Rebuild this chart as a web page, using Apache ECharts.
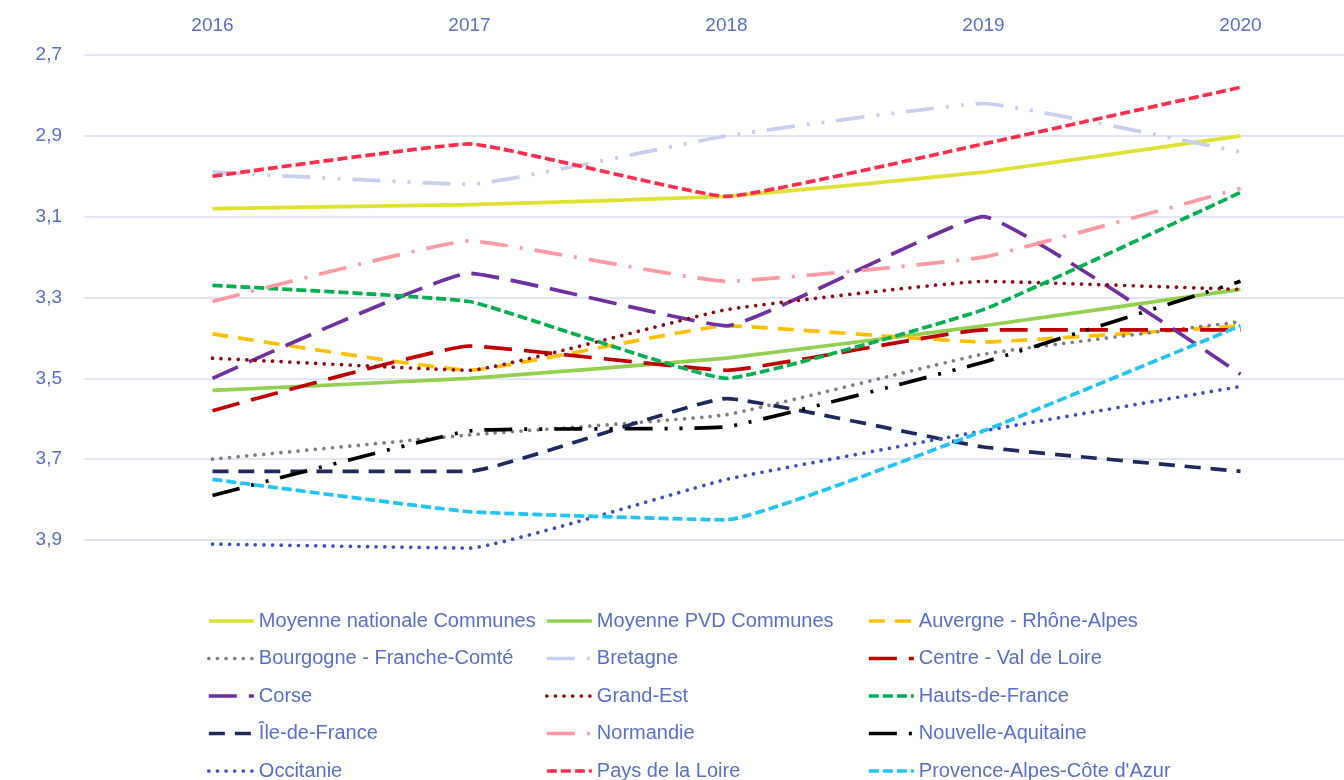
<!DOCTYPE html>
<html lang="fr">
<head>
    <meta charset="UTF-8">
    <title>Evolution par region</title>
    <style>
        html, body { margin: 0; padding: 0; background: #fff; overflow: hidden; }
        /* a bit wider and taller than the window: the last band and legend row are cut like in the source */
        #chart { width: 1369px; height: 800px; }
    </style>
</head>
<body>
    <div id="chart"></div>
</body>
</html>
<script src="https://cdn.jsdelivr.net/npm/echarts@6/dist/echarts.min.js"></script>
<script type="text/javascript">
    const years = ['2016', '2017', '2018', '2019', '2020'];

    const moyNationale = [3.08, 3.07, 3.05, 2.99, 2.90];
    const moyPvd = [3.53, 3.50, 3.45, 3.37, 3.28];
    const auvergne = [3.39, 3.48, 3.37, 3.41, 3.37];
    const bourgogne = [3.70, 3.64, 3.59, 3.44, 3.36];
    const bretagne = [2.99, 3.02, 2.90, 2.82, 2.94];
    const centre = [3.58, 3.42, 3.48, 3.38, 3.38];
    const corse = [3.50, 3.24, 3.37, 3.10, 3.49];
    const grandEst = [3.45, 3.48, 3.33, 3.26, 3.28];
    const hauts = [3.27, 3.31, 3.50, 3.33, 3.04];
    const ileDeFrance = [3.73, 3.73, 3.55, 3.67, 3.73];
    const normandie = [3.31, 3.16, 3.26, 3.20, 3.03];
    const nouvelleAq = [3.79, 3.63, 3.62, 3.46, 3.26];
    const occitanie = [3.91, 3.92, 3.75, 3.63, 3.52];
    const paysLoire = [3.00, 2.92, 3.05, 2.92, 2.78];
    const paca = [3.75, 3.83, 3.85, 3.63, 3.37];

    const txt = '#5A6ECB';
    const W = 3.7;

    // dash patterns, like the office ones
    const sysDash = [10, 4];
    const dash = [16, 10];
    const lgDash = [28, 12];
    const lgDashDot = [28, 12, 3, 12];
    const lgDashDotDot = [28, 12, 3, 12, 3, 12];
    const dot = [0.01, 8.6];

    // name, data, color, dash type, cap
    const rows = [
        ['Moyenne nationale Communes', moyNationale, '#DFE232', 'solid'],
        ['Moyenne PVD Communes', moyPvd, '#92D050', 'solid'],
        ['Auvergne - Rhône-Alpes', auvergne, '#FFC000', dash],
        ['Bourgogne - Franche-Comté', bourgogne, '#7F7F7F', dot, 'round'],
        ['Bretagne', bretagne, '#C9CFEE', lgDashDotDot],
        ['Centre - Val de Loire', centre, '#C00000', lgDash],
        ['Corse', corse, '#7030A0', lgDash],
        ['Grand-Est', grandEst, '#8E0B14', dot, 'round'],
        ['Hauts-de-France', hauts, '#00B050', sysDash],
        ['Île-de-France', ileDeFrance, '#1F2A5C', dash],
        ['Normandie', normandie, '#FF99A3', lgDashDot],
        ['Nouvelle-Aquitaine', nouvelleAq, '#000000', lgDashDotDot],
        ['Occitanie', occitanie, '#3A4EC2', dot, 'round'],
        ['Pays de la Loire', paysLoire, '#FF2E4D', sysDash],
        ['Provence-Alpes-Côte d\'Azur', paca, '#22C3F7', sysDash]
    ];

    const series = rows.map(([name, data, color, type, cap]) => ({
        name: name,
        type: 'line',
        data: data,
        smooth: 0.1,
        symbol: 'none',
        clip: false,
        color: color,
        lineStyle: { color: color, width: W, type: type, cap: cap || 'butt' }
    }));

    // three legend columns of five rows
    const colLeft = [207, 545, 867];
    const legends = colLeft.map((left, c) => ({
        orient: 'vertical',
        left: left,
        top: 611,
        padding: 0,
        itemWidth: 45,
        itemHeight: 14,
        itemGap: 17.5,
        selectedMode: false,
        itemStyle: { opacity: 0 },
        lineStyle: { width: W },
        data: rows.filter((r, i) => i % 3 === c).map(r => r[0]),
        textStyle: { color: txt, fontSize: 20, fontFamily: 'Liberation Sans', lineHeight: 20 }
    }));

    const chart = echarts.init(document.getElementById('chart'));
    chart.setOption({
        animation: false,
        backgroundColor: '#fff',
        grid: { left: 84, right: 0, top: 55, bottom: 260 },
        legend: legends,
        xAxis: {
            type: 'category',
            position: 'top',
            boundaryGap: true,
            data: years,
            axisLine: { show: false },
            axisTick: { show: false },
            axisLabel: { color: txt, fontSize: 19, fontFamily: 'Liberation Sans', margin: 20 }
        },
        yAxis: {
            type: 'value',
            inverse: true,
            min: 2.7,
            max: 3.9,
            interval: 0.2,
            axisLine: { show: false },
            axisTick: { show: false },
            splitLine: { lineStyle: { color: '#D9DCF2', width: 1.5 } },
            axisLabel: {
                color: txt,
                fontSize: 19,
                fontFamily: 'Liberation Sans',
                margin: 22,
                formatter: v => v.toFixed(1).replace('.', ',')
            }
        },
        series: series
    });
</script>
